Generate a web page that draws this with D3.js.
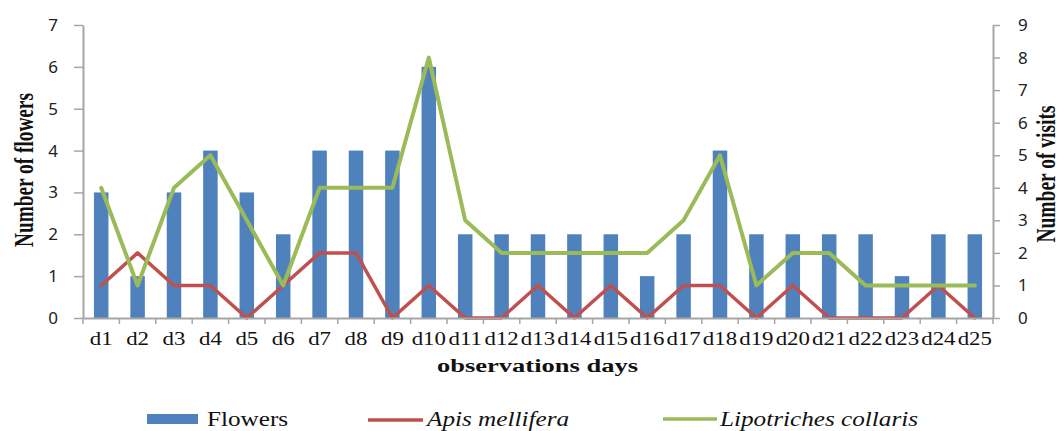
<!DOCTYPE html>
<html><head><meta charset="utf-8">
<script src="https://cdn.jsdelivr.net/npm/d3@7"></script>
<style>html,body{margin:0;padding:0;background:#fff;}</style>
</head><body>
<svg id="c" width="1062" height="431"></svg>
<script>
const days = ["d1","d2","d3","d4","d5","d6","d7","d8","d9","d10","d11","d12","d13","d14","d15","d16","d17","d18","d19","d20","d21","d22","d23","d24","d25"];
const flowers = [3,1,3,4,3,2,4,4,4,6,2,2,2,2,2,1,2,4,2,2,2,2,1,2,2];
const apis = [1,2,1,1,0,1,2,2,0,1,0,0,1,0,1,0,1,1,0,1,0,0,0,1,0];
const lipo = [4,1,4,5,3,1,4,4,4,8,3,2,2,2,2,2,3,5,1,2,2,1,1,1,1];
const leftTicks = [0,1,2,3,4,5,6,7];
const rightTicks = [0,1,2,3,4,5,6,7,8,9];
const seriesNames = ["Flowers","Apis mellifera","Lipotriches collaris"];
const colors = ["#4F81BD","#C0504D","#9BBB59"];

const svg = d3.select("#c");
const X0=83, X1=993, YT=25, YB=318;
const x = d3.scaleBand().domain(days).range([X0,X1]);
const yL = d3.scaleLinear().domain([0,7]).range([YB,YT]);
const yR = d3.scaleLinear().domain([0,9]).range([YB,YT]);
const axisCol = "#A6A6A6";
const tickFont = "'Noto Sans', sans-serif";
const serif = "'Liberation Serif','Times New Roman',serif";

// bars
const bw = 14.5;
svg.append("g").selectAll("rect").data(flowers).join("rect")
  .attr("x",(d,i)=>x(days[i])+x.bandwidth()/2-bw/2)
  .attr("y",d=>yL(d)).attr("width",bw).attr("height",d=>YB-yL(d))
  .attr("fill",colors[0]);

// lines
const line = yS => d3.line().x((d,i)=>x(days[i])+x.bandwidth()/2).y(d=>yS(d));
svg.append("path").datum(apis).attr("d",line(yR)).attr("fill","none")
  .attr("stroke",colors[1]).attr("stroke-width",3.5).attr("stroke-linejoin","round").attr("stroke-linecap","round");
svg.append("path").datum(lipo).attr("d",line(yR)).attr("fill","none")
  .attr("stroke",colors[2]).attr("stroke-width",4).attr("stroke-linejoin","round").attr("stroke-linecap","round");

// left axis
const gL = svg.append("g").attr("transform",`translate(${X0},0)`)
  .call(d3.axisLeft(yL).tickValues(leftTicks).tickFormat(d3.format("d")).tickSize(9).tickSizeOuter(0).tickPadding(16));
// right axis
const gR = svg.append("g").attr("transform",`translate(${X1},0)`)
  .call(d3.axisRight(yR).tickValues(rightTicks).tickFormat(d3.format("d")).tickSize(7).tickSizeOuter(0).tickPadding(18));
[gL,gR].forEach(g=>{
  g.select(".domain").attr("stroke",axisCol).attr("stroke-width",2);
  g.selectAll(".tick line").attr("stroke",axisCol).attr("stroke-width",1.5);
  g.selectAll(".tick text").attr("font-family",tickFont).attr("font-size",17).attr("fill","#222");
});

// x axis
const gX = svg.append("g").attr("transform",`translate(0,${YB})`)
  .call(d3.axisBottom(x).tickSize(0).tickPadding(14));
gX.select(".domain").attr("stroke",axisCol).attr("stroke-width",2);
gX.selectAll(".tick text").attr("font-family",serif).attr("font-size",18).attr("fill","#111")
  .attr("transform","scale(1.27,1)");
const bounds = days.map(d=>x(d)).concat([X1]);
svg.append("g").selectAll("line").data(bounds).join("line")
  .attr("x1",d=>d).attr("x2",d=>d).attr("y1",YB).attr("y2",YB+6)
  .attr("stroke",axisCol).attr("stroke-width",1.5);

// titles
svg.append("text").attr("transform","translate(537.5,372) scale(1.36,1)").attr("text-anchor","middle")
  .attr("font-family",serif).attr("font-weight","bold").attr("font-size",19.5).attr("fill","#111")
  .text("observations days");
svg.append("text").attr("transform","translate(33,170) scale(1.45,1) rotate(-90)").attr("text-anchor","middle")
  .attr("font-family",serif).attr("font-weight","bold").attr("font-size",19.3).attr("fill","#111")
  .text("Number of flowers");
svg.append("text").attr("transform","translate(1055,174) scale(1.35,1) rotate(-90)").attr("text-anchor","middle")
  .attr("font-family",serif).attr("font-weight","bold").attr("font-size",19.5).attr("fill","#111")
  .text("Number of visits");

// legend
const lg = svg.append("g");
lg.append("rect").attr("x",147).attr("y",414).attr("width",51).attr("height",10).attr("fill",colors[0]);
lg.append("line").attr("x1",368).attr("x2",423).attr("y1",420).attr("y2",420).attr("stroke",colors[1]).attr("stroke-width",3.5);
lg.append("line").attr("x1",663).attr("x2",717).attr("y1",419).attr("y2",419).attr("stroke",colors[2]).attr("stroke-width",3.5);
const ltx = [207,427,720];
seriesNames.forEach((n,i)=>{
  lg.append("text").attr("transform",`translate(${ltx[i]},426) scale(1.2,1)`)
    .attr("font-family",serif).attr("font-size",21)
    .attr("font-style",i>0?"italic":"normal").attr("fill","#111").text(n);
});
</script>
</body></html>
